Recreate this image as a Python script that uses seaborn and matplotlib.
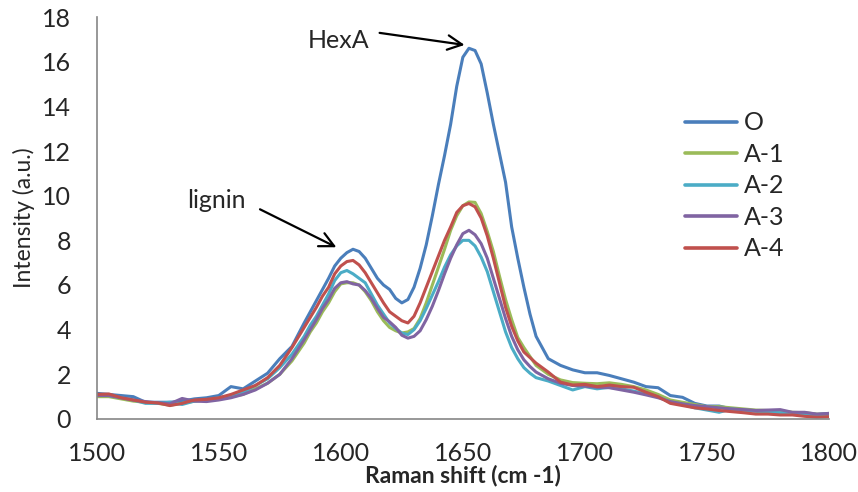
import numpy as np
import pandas as pd
import matplotlib
matplotlib.use("Agg")
import matplotlib.pyplot as plt
import seaborn as sns

# ---- data ----
x_a = [1500, 1505, 1510, 1515, 1520, 1525, 1530, 1535, 1540, 1545, 1550, 1555,
       1560, 1565, 1570, 1575, 1580, 1585]
x_b = [1587.5, 1590, 1592.5, 1595, 1597.5, 1600, 1602.5, 1605, 1607.5, 1610,
       1612.5, 1615, 1617.5, 1620, 1622.5, 1625, 1627.5, 1630, 1632.5, 1635,
       1637.5, 1640, 1642.5, 1645, 1647.5, 1650, 1652.5, 1655, 1657.5, 1660,
       1662.5, 1665, 1667.5, 1670, 1672.5, 1675, 1677.5, 1680]
x_c = [1685, 1690, 1695, 1700, 1705, 1710, 1715, 1720, 1725, 1730, 1735, 1740,
       1745, 1750, 1755, 1760, 1765, 1770, 1775, 1780, 1785, 1790, 1795, 1800]
raman_shift = x_a + x_b + x_c

O = ([1.15, 1.1, 1.05, 1.0, 0.75, 0.75, 0.75, 0.8, 0.9, 0.95, 1.05, 1.45, 1.35, 1.7, 2.05, 2.7, 3.25, 4.3]
     + [4.8, 5.3, 5.8, 6.3, 6.85, 7.2, 7.45, 7.6, 7.5, 7.2, 6.75, 6.3, 6.0, 5.8, 5.4, 5.2, 5.35, 5.9, 6.75, 7.8,
        9.1, 10.5, 11.8, 13.2, 14.9, 16.2, 16.6, 16.5, 15.9, 14.6, 13.2, 11.9, 10.6, 8.6, 7.2, 5.9, 4.7, 3.7]
     + [2.7, 2.4, 2.2, 2.07, 2.07, 1.95, 1.8, 1.65, 1.45, 1.4, 1.05, 0.97, 0.7, 0.58, 0.58, 0.45, 0.4, 0.35,
        0.28, 0.3, 0.25, 0.22, 0.2, 0.25])
A1 = ([1.0, 1.0, 0.9, 0.8, 0.75, 0.7, 0.62, 0.7, 0.8, 0.85, 0.9, 1.0, 1.1, 1.35, 1.6, 2.0, 2.6, 3.4]
      + [3.9, 4.3, 4.8, 5.2, 5.7, 6.05, 6.1, 6.1, 6.0, 5.7, 5.3, 4.8, 4.4, 4.1, 3.95, 3.85, 3.9, 4.05, 4.5, 5.2,
         6.0, 6.8, 7.6, 8.45, 9.1, 9.55, 9.72, 9.7, 9.2, 8.4, 7.5, 6.4, 5.35, 4.45, 3.65, 3.2, 2.8, 2.4]
      + [2.0, 1.75, 1.63, 1.6, 1.58, 1.62, 1.55, 1.45, 1.3, 1.1, 0.85, 0.75, 0.65, 0.55, 0.55, 0.5, 0.45, 0.4,
         0.38, 0.35, 0.3, 0.28, 0.22, 0.2])
A2 = ([1.1, 1.05, 0.95, 0.85, 0.7, 0.7, 0.75, 0.65, 0.8, 0.85, 0.95, 1.05, 1.2, 1.5, 1.8, 2.3, 2.9, 3.7]
      + [4.2, 4.6, 5.1, 5.6, 6.2, 6.55, 6.65, 6.5, 6.3, 6.1, 5.6, 5.1, 4.7, 4.3, 4.05, 3.85, 3.78, 4.0, 4.4, 4.95,
         5.55, 6.15, 6.8, 7.35, 7.75, 8.0, 8.0, 7.75, 7.25, 6.6, 5.7, 4.8, 3.9, 3.2, 2.7, 2.3, 2.05, 1.85]
      + [1.7, 1.5, 1.3, 1.45, 1.35, 1.42, 1.35, 1.25, 1.12, 1.0, 0.75, 0.65, 0.5, 0.4, 0.3, 0.45, 0.4, 0.35,
         0.3, 0.28, 0.25, 0.25, 0.2, 0.22])
A3 = ([1.05, 1.05, 0.95, 0.85, 0.78, 0.72, 0.68, 0.92, 0.8, 0.78, 0.85, 0.95, 1.1, 1.3, 1.6, 2.0, 2.7, 3.55]
      + [4.0, 4.45, 4.95, 5.35, 5.85, 6.1, 6.15, 6.05, 6.0, 5.75, 5.4, 4.95, 4.55, 4.35, 4.1, 3.75, 3.62, 3.7, 3.95, 4.45,
         5.05, 5.75, 6.5, 7.2, 7.8, 8.3, 8.45, 8.25, 7.85, 7.2, 6.3, 5.4, 4.5, 3.7, 3.1, 2.65, 2.35, 2.1]
      + [1.8, 1.6, 1.5, 1.47, 1.42, 1.4, 1.3, 1.2, 1.08, 0.95, 0.78, 0.68, 0.6, 0.55, 0.5, 0.45, 0.42, 0.38,
         0.4, 0.42, 0.3, 0.3, 0.22, 0.25])
A4 = ([1.1, 1.12, 0.95, 0.85, 0.75, 0.72, 0.6, 0.7, 0.85, 0.88, 0.95, 1.1, 1.3, 1.5, 1.85, 2.4, 3.2, 4.1]
      + [4.55, 5.0, 5.5, 5.9, 6.5, 6.85, 7.05, 7.1, 6.9, 6.55, 6.1, 5.65, 5.2, 4.8, 4.6, 4.4, 4.3, 4.6, 5.2, 5.9,
         6.6, 7.3, 8.0, 8.6, 9.25, 9.55, 9.65, 9.5, 9.0, 8.2, 7.2, 6.1, 5.0, 4.15, 3.5, 3.0, 2.75, 2.5]
      + [2.1, 1.65, 1.52, 1.55, 1.45, 1.52, 1.45, 1.42, 1.2, 1.0, 0.7, 0.6, 0.5, 0.45, 0.38, 0.33, 0.28, 0.22,
         0.22, 0.18, 0.18, 0.12, 0.08, 0.1])

series_names = ["O", "A-1", "A-2", "A-3", "A-4"]
series_values = [O, A1, A2, A3, A4]
colors = ["#4A7EBB", "#9BBB59", "#4BACC6", "#8064A2", "#C0504D"]

x_ticks = [1500, 1550, 1600, 1650, 1700, 1750, 1800]
y_ticks = [0, 2, 4, 6, 8, 10, 12, 14, 16, 18]

frames = []
for name, vals in zip(series_names, series_values):
    assert len(vals) == len(raman_shift), name
    frames.append(pd.DataFrame({"x": raman_shift, "y": vals, "series": name}))
df = pd.concat(frames, ignore_index=True)

# ---- plot ----
sns.set_style("white")
plt.rcParams["font.family"] = ["Lato", "DejaVu Sans"]

fig = plt.figure(figsize=(8.58, 4.92), dpi=100)
ax = fig.add_axes([0.1127, 0.1484, 0.8535, 0.817])

sns.lineplot(data=df, x="x", y="y", hue="series", hue_order=series_names,
             palette=colors, sort=False, estimator=None, linewidth=2.2, ax=ax)

ax.set_xlim(1500, 1800)
ax.set_ylim(0, 18)
ax.set_xticks(x_ticks)
ax.set_yticks(y_ticks)
ax.tick_params(axis="both", labelsize=18, length=6.5, width=1.2, color="#868686",
               direction="out")
ax.tick_params(axis="x", pad=10)
ax.tick_params(axis="y", pad=12)
for s in ["top", "right"]:
    ax.spines[s].set_visible(False)
for s in ["left", "bottom"]:
    ax.spines[s].set_color("#868686")
    ax.spines[s].set_linewidth(1.2)

ax.set_xlabel("Raman shift (cm -1)", fontsize=16.5, fontweight="bold", labelpad=0)
ax.set_ylabel("Intensity (a.u.)", fontsize=16.5, labelpad=5)

leg = ax.legend(loc="upper left", bbox_to_anchor=(0.803, 0.765), frameon=False,
                fontsize=18, handlelength=2.1, handletextpad=0.25, labelspacing=0.34,
                borderaxespad=0, borderpad=0)
for line in leg.get_lines():
    line.set_linewidth(2.6)

arrow_kw = dict(arrowstyle="->", lw=1.6, color="black", mutation_scale=26,
                shrinkA=0, shrinkB=0)
ax.text(1599, 16.63, "HexA", fontsize=18, ha="center", va="baseline")
ax.annotate("", xy=(1650.7, 16.75), xytext=(1615.9, 17.29), arrowprops=arrow_kw)
ax.text(1549, 9.45, "lignin", fontsize=18, ha="center", va="baseline")
ax.annotate("", xy=(1598.2, 7.69), xytext=(1566.9, 9.39), arrowprops=arrow_kw)

fig.savefig("out.png", dpi=100)
